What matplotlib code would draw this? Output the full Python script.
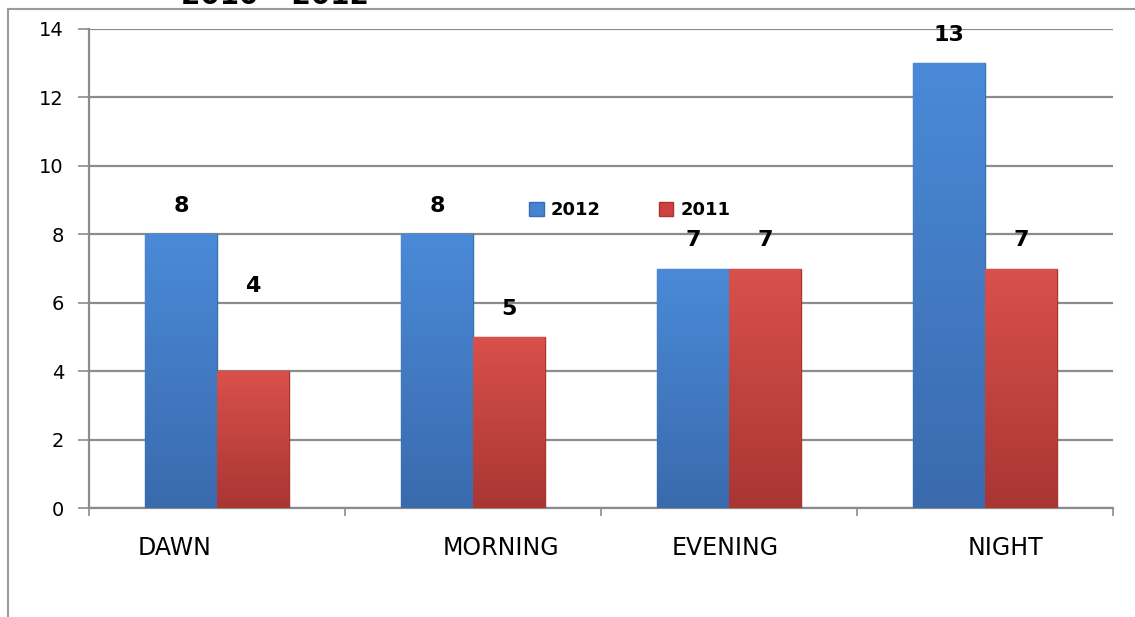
import numpy as np
import matplotlib
matplotlib.use("Agg")
import matplotlib.pyplot as plt
from matplotlib.lines import Line2D
from matplotlib.colors import LinearSegmentedColormap

categories = ["DAWN", "MORNING", "EVENING", "NIGHT"]
vals_2012 = [8, 8, 7, 13]
vals_2011 = [4, 5, 7, 7]
series_names = ["2012", "2011"]
yticks = [0, 2, 4, 6, 8, 10, 12, 14]

# layout tweaks (category label shifts, extra lift for the "4" label)
label_shift = [-0.165, 0.11, -0.015, 0.08]
lift_2011 = [57, 0, 0, 0]

blue = "#4682cf"
red = "#cf413e"
grid_col = "#8c8c8c"
blue_cmap = LinearSegmentedColormap.from_list("b", ["#3a6aad", "#4a8ad8"])
red_cmap = LinearSegmentedColormap.from_list("r", ["#a93633", "#d9504c"])

fig = plt.figure(figsize=(11.35, 6.17), dpi=100)
ax = fig.add_axes([89 / 1135, 109 / 617, 1024 / 1135, 479 / 617])

x = np.arange(len(categories))
w = 0.28
b1 = ax.bar(x - w / 2, vals_2012, width=w, color=blue, edgecolor="#3a6db0",
            linewidth=1, label=series_names[0], zorder=3)
b2 = ax.bar(x + w / 2, vals_2011, width=w, color=red, edgecolor="#a83532",
            linewidth=1, label=series_names[1], zorder=3)

# vertical shading inside each bar
grad = np.linspace(0, 1, 256).reshape(-1, 1)
for bars, cmap in [(b1, blue_cmap), (b2, red_cmap)]:
    for rect in bars:
        x0, y0 = rect.get_x(), rect.get_y()
        im = ax.imshow(grad, cmap=cmap, origin="lower", aspect="auto",
                       extent=[x0, x0 + rect.get_width(), y0, y0 + rect.get_height()],
                       zorder=3.5)
        im.set_clip_path(rect)

for rect, v in zip(b1, vals_2012):
    ax.annotate(str(v), (rect.get_x() + rect.get_width() / 2, v),
                xytext=(0, 18), textcoords="offset pixels", ha="center",
                va="bottom", fontsize=16, fontweight="bold")
for rect, v, lift in zip(b2, vals_2011, lift_2011):
    ax.annotate(str(v), (rect.get_x() + rect.get_width() / 2, v),
                xytext=(0, 18 + lift), textcoords="offset pixels", ha="center",
                va="bottom", fontsize=16, fontweight="bold")

ax.set_xlim(-0.5, len(categories) - 0.5)
ax.set_ylim(0, 14)
ax.set_yticks(yticks)
ax.yaxis.grid(True, color=grid_col, linewidth=1.6, zorder=0)
ax.set_axisbelow(True)

ax.set_xticks(x + np.array(label_shift), categories)
ax.set_xticks(np.arange(len(categories) + 1) - 0.5, minor=True)
ax.tick_params(axis="x", which="major", length=0, pad=20, labelsize=17)
ax.tick_params(axis="x", which="minor", length=6, color=grid_col, width=1.2)
ax.tick_params(axis="y", length=8, color=grid_col, width=1.2, labelsize=14, pad=10)

for s in ["top", "right"]:
    ax.spines[s].set_visible(False)
for s in ["left", "bottom"]:
    ax.spines[s].set_color(grid_col)
    ax.spines[s].set_linewidth(1.6)

leg = ax.legend(loc="center", bbox_to_anchor=(0.528, 0.622), ncol=2, frameon=False,
                handlelength=0.8, handleheight=0.8, columnspacing=3.2,
                handletextpad=0.4, prop={"weight": "bold", "size": 13})

# outer chart border and clipped title
fig.add_artist(Line2D([8 / 1135, 8 / 1135], [0, 1 - 9 / 617], color="#9a9a9a", lw=1.5))
fig.add_artist(Line2D([8 / 1135, 1], [1 - 9 / 617, 1 - 9 / 617], color="#9a9a9a", lw=1.5))
fig.text(275 / 1135, 1 - 4 / 617, "2010 – 2012", ha="center", va="baseline",
         fontsize=20, fontweight="bold")

fig.savefig("out.png", dpi=100)
